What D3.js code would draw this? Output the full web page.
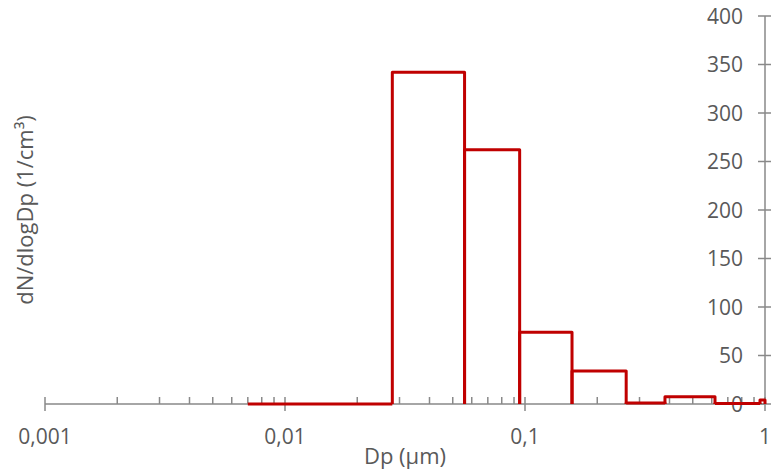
<!DOCTYPE html>
<html><head><meta charset="utf-8">
<script src="https://cdn.jsdelivr.net/npm/d3@7"></script>
<style>body{margin:0;background:#fff}svg{display:block}</style>
</head><body>
<svg id="c" width="771" height="472"></svg>
<script>
// Data
const binEdges = [0.007, 0.028, 0.056, 0.095, 0.157, 0.264, 0.383, 0.619, 0.953, 1.0];
const binValues = [0, 342, 262, 74, 34, 1, 7.5, 0.5, 4];
const xTickValues = [0.001, 0.01, 0.1, 1];
const xTickLabels = ["0,001", "0,01", "0,1", "1"];
const yTickValues = [0, 50, 100, 150, 200, 250, 300, 350, 400];

const svg = d3.select("#c");
const font = "'Open Sans', sans-serif";
const axisColor = "#898989", textColor = "#595959";
const x = d3.scaleLog().domain([0.001, 1]).range([45, 765]);
const y = d3.scaleLinear().domain([0, 400]).range([404, 16]);

// x axis line and ticks
const gx = svg.append("g");
gx.append("line").attr("x1", x(0.001)).attr("x2", x(1)).attr("y1", y(0)).attr("y2", y(0))
  .attr("stroke", axisColor).attr("stroke-width", 1.5);
const minor = [];
for (let d = -3; d < 0; d++) for (let m = 2; m <= 9; m++) minor.push(m * Math.pow(10, d));
gx.selectAll(".mn").data(minor).join("line")
  .attr("x1", d => x(d)).attr("x2", d => x(d)).attr("y1", y(0) - 7).attr("y2", y(0))
  .attr("stroke", axisColor).attr("stroke-width", 1.5);
gx.selectAll(".mj").data(xTickValues).join("line")
  .attr("x1", d => x(d)).attr("x2", d => x(d)).attr("y1", y(0) - 7).attr("y2", y(0) + 7)
  .attr("stroke", axisColor).attr("stroke-width", 1.5);
gx.selectAll(".lb").data(xTickValues).join("text")
  .attr("x", d => x(d)).attr("y", 444).attr("text-anchor", "middle")
  .attr("font-family", font).attr("font-size", 21).attr("fill", textColor)
  .text((d, i) => xTickLabels[i]);

// y axis (right)
const gy = svg.append("g");
gy.append("line").attr("x1", x(1)).attr("x2", x(1)).attr("y1", y(0)).attr("y2", y(400))
  .attr("stroke", axisColor).attr("stroke-width", 1.5);
gy.selectAll(".yt").data(yTickValues).join("line")
  .attr("x1", x(1) - 7).attr("x2", x(1) + 7).attr("y1", d => y(d)).attr("y2", d => y(d))
  .attr("stroke", axisColor).attr("stroke-width", 1.5);

// bins
const g = svg.append("g");
binValues.forEach((v, i) => {
  const x0 = x(binEdges[i]), x1 = x(binEdges[i + 1]);
  const p = d3.path();
  p.moveTo(x0, y(0)); p.lineTo(x0, y(v)); p.lineTo(x1, y(v)); p.lineTo(x1, y(0));
  g.append("path").attr("d", p.toString()).attr("fill", "none")
    .attr("stroke", "#C00000").attr("stroke-width", 3).attr("stroke-linejoin", "round");
});

gy.selectAll(".yl").data(yTickValues).join("text")
  .attr("x", 743).attr("y", d => y(d)).attr("dy", "0.36em").attr("text-anchor", "end")
  .attr("font-family", font).attr("font-size", 21).attr("fill", textColor)
  .text(d => d);

// titles
svg.append("text").attr("x", 405).attr("y", 464).attr("text-anchor", "middle")
  .attr("font-family", font).attr("font-size", 22).attr("fill", textColor).text("Dp (µm)");
svg.append("text").attr("transform", "translate(33,210) rotate(-90)").attr("text-anchor", "middle")
  .attr("font-family", font).attr("font-size", 22).attr("fill", textColor).text("dN/dlogDp (1/cm³)");
</script>
</body></html>
